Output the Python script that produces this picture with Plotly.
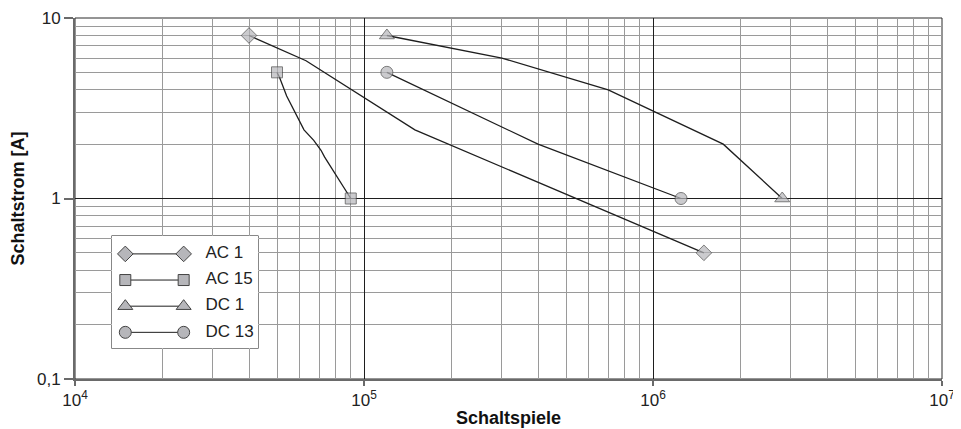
import plotly.graph_objects as go

# ---- data ----
ac1_x = [4e4, 6.3e4, 1.5e5, 1.5e6]
ac1_y = [8, 5.8, 2.4, 0.5]
ac15_x = [5e4, 5.1e4, 5.4e4, 5.7e4, 6.2e4, 6.7e4, 7.1e4, 7.3e4, 9e4]
ac15_y = [5, 4.7, 3.7, 3.1, 2.4, 2.1, 1.85, 1.7, 1]
dc1_x = [1.2e5, 3e5, 7e5, 1.75e6, 2.8e6]
dc1_y = [8, 6, 4, 2, 1]
dc13_x = [1.2e5, 4e5, 1.25e6]
dc13_y = [5, 2, 1]

series_names = ["AC 1", "AC 15", "DC 1", "DC 13"]
series_symbols = ["diamond", "square", "triangle-up", "circle"]
series_sizes = [12, 11, 13, 12]

x_tickvals = [1e4, 1e5, 1e6, 1e7]
x_ticktext = ["10<sup>4</sup>", "10<sup>5</sup>", "10<sup>6</sup>", "10<sup>7</sup>"]
y_tickvals = [0.1, 1, 10]
y_ticktext = ["0,1", "1", "10"]

FONT = "Liberation Sans, Arial, sans-serif"
LINE = "#1e1e1e"
FILL = "#b6b6ba"
EDGE = "#444444"

fig = go.Figure()

data = [(ac1_x, ac1_y), (ac15_x, ac15_y), (dc1_x, dc1_y), (dc13_x, dc13_y)]
for (xs, ys), name, sym, sz in zip(data, series_names, series_symbols, series_sizes):
    n = len(xs)
    sizes = [sz] + [0] * (n - 2) + [sz]
    fig.add_trace(go.Scatter(
        x=xs, y=ys, mode="lines+markers", name=name, showlegend=False,
        line=dict(color=LINE, width=1.3),
        marker=dict(symbol=sym, size=sizes, color=FILL, line=dict(color=EDGE, width=1)),
        xaxis="x", yaxis="y",
    ))

# ---- custom legend in inset axes ----
leg_x = [0.093, 0.491]
for i, (name, sym, sz) in enumerate(zip(series_names, series_symbols, series_sizes)):
    fig.add_trace(go.Scatter(
        x=leg_x, y=[i, i], mode="lines+markers", showlegend=False, hoverinfo="skip",
        line=dict(color=LINE, width=1),
        marker=dict(symbol=sym, size=sz, color=FILL, line=dict(color=EDGE, width=1)),
        xaxis="x2", yaxis="y2",
    ))
fig.add_trace(go.Scatter(
    x=[0.64] * 4, y=list(range(4)), mode="text", text=series_names,
    textposition="middle right", textfont=dict(family=FONT, size=17, color="#222"),
    showlegend=False, hoverinfo="skip", xaxis="x2", yaxis="y2",
))

minor_x = [m * 10 ** k for k in range(4, 7) for m in range(2, 10)]
minor_y = [m * 10 ** k for k in range(-1, 1) for m in range(2, 10)]

# page body has an 8px default margin; size the figure to fit the 961x429 window
fig.update_layout(
    width=953, height=421,
    margin=dict(l=67, r=19, t=10, b=50),
    paper_bgcolor="white", plot_bgcolor="white",
    font=dict(family=FONT, size=16, color="#222"),
    xaxis=dict(
        type="log", range=[4, 7], tickmode="array", tickvals=x_tickvals, ticktext=x_ticktext,
        automargin=False,
        showgrid=True, gridcolor="#1e1e1e", gridwidth=1,
        minor=dict(tickmode="array", tickvals=minor_x, showgrid=True, gridcolor="#9a9a9a", gridwidth=1, ticks=""),
        showline=True, linecolor="#6a6a6a", linewidth=2,
        ticks="outside", ticklen=5, tickcolor="#6a6a6a", tickwidth=1.5,
        tickfont=dict(family=FONT, size=17, color="#222"),
        title=dict(text="<b>Schaltspiele</b>", font=dict(family=FONT, size=18, color="#111"), standoff=2),
        zeroline=False,
    ),
    yaxis=dict(
        type="log", range=[-1, 1], tickmode="array", tickvals=y_tickvals, ticktext=y_ticktext,
        automargin=False,
        showgrid=True, gridcolor="#1e1e1e", gridwidth=1,
        minor=dict(tickmode="array", tickvals=minor_y, showgrid=True, gridcolor="#9a9a9a", gridwidth=1, ticks=""),
        showline=True, linecolor="#6a6a6a", linewidth=2,
        ticks="outside", ticklen=9, tickcolor="#6a6a6a", tickwidth=1.5,
        tickfont=dict(family=FONT, size=17, color="#222"),
        title=dict(text="<b>Schaltstrom [A]</b>", font=dict(family=FONT, size=18, color="#111"), standoff=8),
        zeroline=False,
    ),
    xaxis2=dict(domain=[0.0423, 0.2114], range=[0, 1], visible=False, anchor="y2", fixedrange=True),
    yaxis2=dict(domain=[0.0851, 0.3965], range=[3.61, -0.69], visible=False, anchor="x2", fixedrange=True),
    shapes=[
        dict(type="rect", xref="paper", yref="paper", x0=0, x1=1, y0=0, y1=1,
             line=dict(color="#2a2a2a", width=1), fillcolor="rgba(0,0,0,0)", layer="between"),
        dict(type="rect", xref="x2 domain", yref="y2 domain", x0=0, x1=1, y0=0, y1=1,
             line=dict(color="#2a2a2a", width=1), fillcolor="white", layer="below"),
    ],
)

fig.write_html("out.html")
